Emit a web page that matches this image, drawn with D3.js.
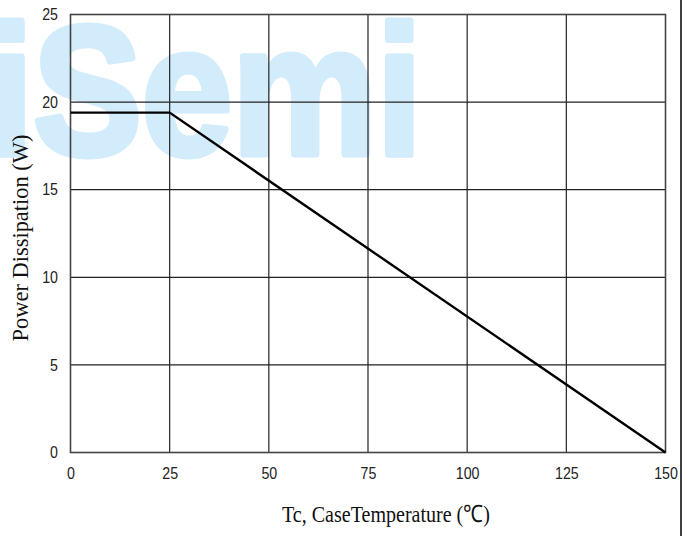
<!DOCTYPE html>
<html>
<head>
<meta charset="utf-8">
<script src="https://cdn.jsdelivr.net/npm/d3@7"></script>
<style>
  html, body { margin: 0; padding: 0; background: #fff; }
  svg { display: block; }
</style>
</head>
<body>
<svg id="chart" width="690" height="536"></svg>
<script>
// ---- data ----
const tempC = [0, 25, 150];
const powerW = [19.4, 19.4, 0];
const xTicks = [0, 25, 50, 75, 100, 125, 150];
const yTicks = [0, 5, 10, 15, 20, 25];
const xTitle = "Tc, CaseTemperature (\u2103)";
const yTitle = "Power Dissipation (W)";
const watermark = "iSemi";

const svg = d3.select("#chart");
const W = 690, H = 536;
const m = { left: 70.5, top: 14.5, right: 24.5, bottom: 83.5 };
const pw = W - m.left - m.right, ph = H - m.top - m.bottom;

// watermark
svg.append("text")
  .attr("x", -12).attr("y", 154)
  .attr("textLength", 434).attr("lengthAdjust", "spacingAndGlyphs")
  .attr("font-family", "Liberation Sans, Arial, sans-serif")
  .attr("font-weight", "bold")
  .attr("font-size", 184)
  .attr("fill", "#d2ecfb")
  .attr("stroke", "#d2ecfb").attr("stroke-width", 7).attr("stroke-linejoin", "round")
  .text(watermark);

const x = d3.scaleLinear().domain([0, 150]).range([m.left, m.left + pw]);
const y = d3.scaleLinear().domain([0, 25]).range([m.top + ph, m.top]);

// grid
const g = svg.append("g");
g.selectAll("line.vx").data(xTicks.slice(1, -1)).join("line")
  .attr("x1", d => x(d)).attr("x2", d => x(d))
  .attr("y1", y(0)).attr("y2", y(25))
  .attr("stroke", "#222").attr("stroke-width", 1.2);
g.selectAll("line.hy").data(yTicks.slice(1, -1)).join("line")
  .attr("x1", x(0)).attr("x2", x(150))
  .attr("y1", d => y(d)).attr("y2", d => y(d))
  .attr("stroke", "#222").attr("stroke-width", 1.2);
g.append("rect")
  .attr("x", x(0)).attr("y", y(25))
  .attr("width", x(150) - x(0)).attr("height", y(0) - y(25))
  .attr("fill", "none").attr("stroke", "#444").attr("stroke-width", 1.6);

// axes
const xAxis = d3.axisBottom(x).tickValues(xTicks).tickSize(0).tickPadding(15);
const yAxis = d3.axisLeft(y).tickValues(yTicks).tickSize(0).tickPadding(12.5);
const xa = svg.append("g").attr("transform", `translate(0,${y(0)})`).call(xAxis);
const ya = svg.append("g").attr("transform", `translate(${x(0)},0)`).call(yAxis);
[xa, ya].forEach(a => {
  a.select(".domain").remove();
  a.selectAll("text")
    .attr("font-family", "Liberation Sans, Arial, sans-serif")
    .attr("font-size", 16).attr("fill", "#222")
    .attr("textLength", function () { return this.textContent.length * 7.9; })
    .attr("lengthAdjust", "spacingAndGlyphs");
});

// data line
const line = d3.line().x((d, i) => x(tempC[i])).y(d => y(d));
svg.append("path")
  .attr("d", line(powerW))
  .attr("fill", "none").attr("stroke", "#000").attr("stroke-width", 2.4)
  .attr("stroke-linejoin", "miter");

// titles
svg.append("text")
  .attr("x", 386).attr("y", 522).attr("text-anchor", "middle")
  .attr("font-family", "Liberation Serif, Times New Roman, serif")
  .attr("font-size", 24).attr("fill", "#111")
  .attr("textLength", 208).attr("lengthAdjust", "spacingAndGlyphs")
  .text(xTitle);
svg.append("text")
  .attr("transform", "translate(28,238) rotate(-90)")
  .attr("text-anchor", "middle")
  .attr("font-family", "Liberation Serif, Times New Roman, serif")
  .attr("font-size", 23).attr("fill", "#111")
  .attr("textLength", 207).attr("lengthAdjust", "spacingAndGlyphs")
  .text(yTitle);

// right border line
svg.append("line")
  .attr("x1", 681).attr("x2", 681).attr("y1", 0).attr("y2", H)
  .attr("stroke", "#000").attr("stroke-width", 1.5);
</script>
</body>
</html>
